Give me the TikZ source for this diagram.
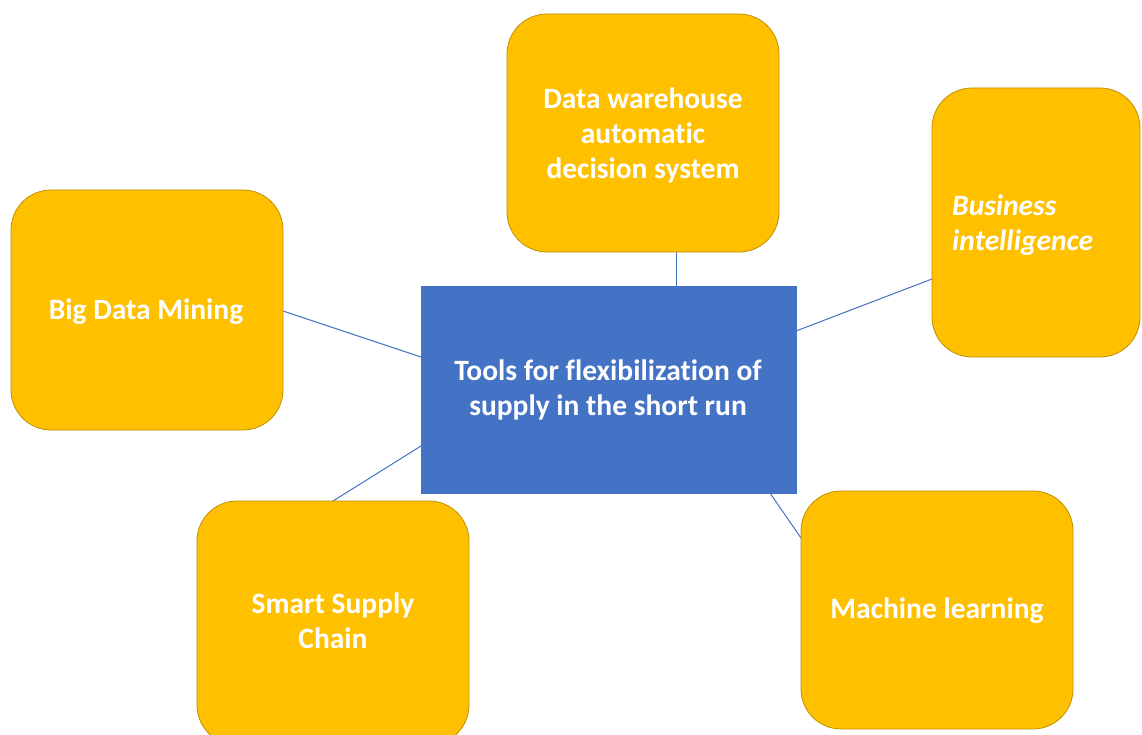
\documentclass[tikz,border=0pt]{standalone}
\usepackage{fontspec}
\setmainfont{Carlito}[Ligatures={NoCommon}]
\definecolor{gold}{HTML}{FFC000}
\definecolor{goldline}{HTML}{BF9000}
\definecolor{bluebox}{HTML}{4472C4}
\definecolor{blueline}{HTML}{4472C4}
\tikzset{
  tool/.style={draw=goldline, line width=0.8pt, fill=gold, rounded corners=40pt},
  hub/.style={fill=bluebox, draw=bluebox},
  lbl/.style={text=white, font=\fontsize{29.5}{35}\selectfont\bfseries, align=center, inner sep=0pt},
  link/.style={draw=blueline, line width=1pt}
}
\begin{document}
\begin{tikzpicture}[x=1pt,y=-1pt]
\clip (0,0) rectangle (1142,735);
\fill[white] (0,0) rectangle (1142,735);
% connectors (behind boxes)
\coordinate (dwB) at (676,252);
\coordinate (hubT) at (676,286);
\coordinate (biL) at (932,279);
\coordinate (hubR) at (796,331);
\coordinate (bdR) at (283,311);
\coordinate (hubL1) at (421,357);
\coordinate (ssT) at (333,501);
\coordinate (hubL2) at (421,446);
\coordinate (hubB) at (770,493);
\coordinate (mlL) at (801,538);
\draw[link] (dwB) -- (hubT);
\draw[link] (biL) -- (hubR);
\draw[link] (bdR) -- (hubL1);
\draw[link] (ssT) -- (hubL2);
\draw[link] (hubB) -- (mlL);
% boxes
\path[tool] (507,14) rectangle (779,252);
\path[tool] (932,88) rectangle (1140,357);
\path[tool] (11,190) rectangle (283,430);
\path[tool] (197,501) rectangle (469,745);
\path[tool] (801,491) rectangle (1073,729);
\path[hub] (421,286) rectangle (796,493);
% labels
\node[lbl] (dw) at (643,135) {Data warehouse\\automatic\\decision system};
\node[lbl, anchor=west, align=left, font=\fontsize{29.5}{35}\selectfont\bfseries\itshape] (bi) at (952,225) {Business\\intelligence};
\node[lbl] (bd) at (146,312) {Big Data Mining};
\node[lbl] (ss) at (333,621) {Smart Supply\\Chain};
\node[lbl] (ml) at (937,611) {Machine learning};
\node[lbl] (hub) at (608,390) {Tools for flexibilization of\\supply in the short run};
\end{tikzpicture}
\end{document}
